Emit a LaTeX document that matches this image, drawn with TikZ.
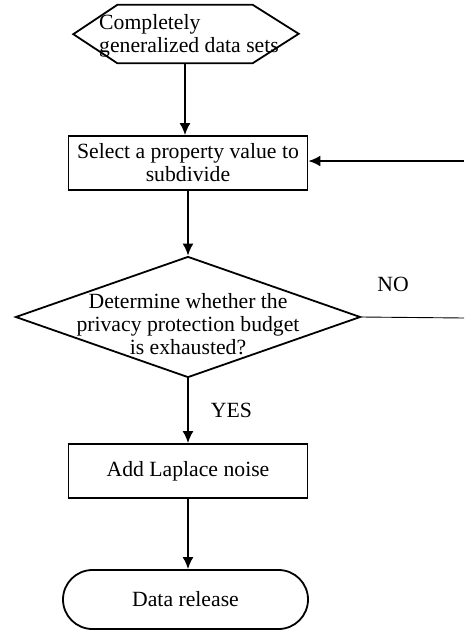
\documentclass[tikz,border=0pt]{standalone}
\usepackage{fontspec}
\setmainfont{Liberation Serif}
\usetikzlibrary{shapes.geometric,shapes.misc,arrows.meta}
\begin{document}
\begin{tikzpicture}[x=1pt,y=1pt,font=\fontsize{21.7}{23}\selectfont]
		% définition des styles
		\tikzstyle{etape}=[rectangle,draw,line width=1.8pt,minimum width=239pt,minimum height=54pt,inner sep=0pt,align=center]
		\tikzstyle{test}=[diamond,draw,line width=1.8pt,minimum width=345pt,minimum height=121pt,inner sep=0pt]
		\tikzstyle{fin}=[rounded rectangle,draw,line width=1.8pt,minimum width=245pt,minimum height=59pt,inner sep=0pt]
		\tikzstyle{texte}=[inner sep=0pt]
		\tikzstyle{fleche}=[-{Latex[length=12pt,width=11pt]},line width=1.8pt]
		\useasboundingbox (0,0) rectangle (464,-632);
		% les nœuds
		\node[minimum width=135pt,minimum height=58pt,inner sep=0pt] (start) at (185,-34) {};
		\draw[line width=1.8pt] (start.north west) -- (start.north east) -- ++(46,-29) -- (start.south east) -- (start.south west) -- ++(-44,29) -- cycle;
		\node[texte,align=left] (starttxt) at (189,-36) {Completely\\generalized data sets};
		\node[etape] (sel) at (188,-163) {Select a property value to\\subdivide};
		\node[test] (dec) at (188,-317) {};
		\node[texte,align=center] (dectxt) at (188,-324) {Determine whether the\\privacy protection budget\\is exhausted?};
		\node[texte] (no) at (393,-284) {NO};
		\node[etape] (add) at (188,-471) {Add Laplace noise};
		\node[fin] (rel) at (185.5,-599.5) {Data release};
		\coordinate (retour) at (464,-161);
		\coordinate (noend) at (464,-318);
		% les flèches
		\draw[fleche] (start.south) -- (start.south |- sel.north);
		\draw[fleche] (retour) -- (retour -| sel.east);
		\draw[fleche] (sel.south) -- (dec.north);
		\draw[line width=0.9pt] (dec.east) -- (noend);
		\draw[fleche] (dec.south) -- (add.north) node[midway,right=22pt,texte] (yes) {YES};
		\draw[fleche] (add.south) -- (add.south |- rel.north);
	\end{tikzpicture}
\end{document}
